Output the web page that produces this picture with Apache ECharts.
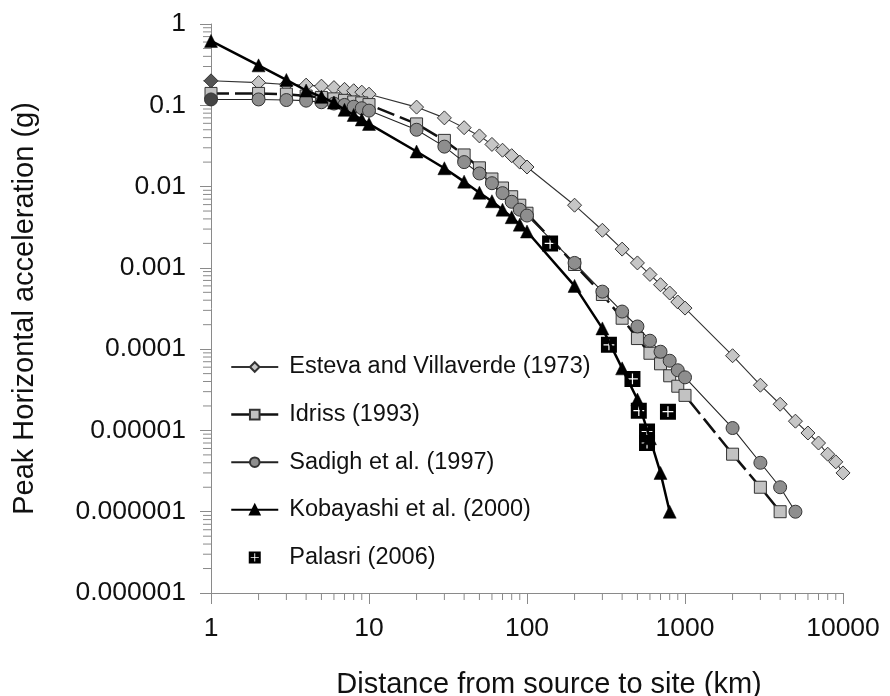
<!DOCTYPE html>
<html>
<head>
<meta charset="utf-8">
<script src="https://cdn.jsdelivr.net/npm/echarts@6/dist/echarts.min.js"></script>
<style>
  html, body { margin: 0; padding: 0; background: #fff; }
  #chart { width: 890px; height: 696px; }
</style>
</head>
<body>
<div id="chart"></div>
<script>
// distances (km) and PGA (g)
const estevaDist = [1,2,3,4,5,6,7,8,9,10,20,30,40,50,60,70,80,90,100,200,300,400,500,600,700,800,900,1000,2000,3000,4000,5000,6000,7000,8000,9000,10000]
const estevaPga = [0.2,0.19,0.18,0.177,0.172,0.165,0.157,0.151,0.145,0.137,0.095,0.07,0.053,0.042,0.033,0.028,0.024,0.020,0.0174,0.0059,0.0029,0.0017,0.00115,0.00083,0.00062,0.00049,0.00038,0.00032,8.3e-5,3.6e-5,2.1e-5,1.3e-5,9.3e-6,7.0e-6,5.1e-6,4.1e-6,3.0e-6]

const idrissDist = [1,2,3,4,5,6,7,8,9,10,20,30,40,50,60,70,80,90,100,200,300,400,500,600,700,800,900,1000,2000,3000,4000]
const idrissPga = [0.14,0.14,0.137,0.13,0.125,0.12,0.115,0.11,0.107,0.102,0.059,0.037,0.0245,0.017,0.0124,0.0096,0.0075,0.0059,0.0047,0.0011,0.00047,0.00024,0.000135,8.9e-5,6.6e-5,4.7e-5,3.5e-5,2.7e-5,5.1e-6,2.0e-6,1.0e-6]

const sadighDist = [1,2,3,4,5,6,7,8,9,10,20,30,40,50,60,70,80,90,100,200,300,400,500,600,700,800,900,1000,2000,3000,4000,5000]
const sadighPga = [0.118,0.118,0.116,0.114,0.109,0.105,0.101,0.096,0.092,0.086,0.05,0.031,0.02,0.0145,0.011,0.0083,0.0065,0.0052,0.0044,0.00115,0.00051,0.00029,0.00019,0.000127,9.3e-5,7.2e-5,5.5e-5,4.5e-5,1.07e-5,4.0e-6,2.0e-6,1.0e-6]

const kobaDist = [1,2,3,4,5,6,7,8,9,10,20,30,40,50,60,70,80,90,100,200,300,400,500,600,700,800]
const kobaPga = [0.62,0.31,0.205,0.152,0.127,0.108,0.088,0.076,0.067,0.059,0.027,0.0168,0.0115,0.0084,0.0066,0.0052,0.0042,0.0034,0.0028,0.0006,0.00018,5.8e-5,2.4e-5,8.0e-6,3.0e-6,1.0e-6]

const palasriDist = [140,330,465,510,575,575,780]
const palasriPga = [0.002,1.13e-4,4.3e-5,1.75e-5,9.7e-6,7.0e-6,1.7e-5]

const xTickLabels = ['1','10','100','1000','10000']
const yTickLabels = ['1','0.1','0.01','0.001','0.0001','0.00001','0.000001','0.000001']

// minor ticks (2..9 of every decade)
const xMinor = []
for (let d = 1; d < 10000; d *= 10) for (let k = 2; k <= 9; k++) xMinor.push(d * k)
const yMinor = []
for (let d = 1e-7; d < 0.5; d *= 10) for (let k = 2; k <= 9; k++) yMinor.push(d * k)

const FONT = "'Liberation Sans', Arial, sans-serif"
const AXIS_COLOR = '#8a8a8a'

// black square with a white plus
const plusSquare = 'path://M0 0H16V16H0Z M7.4 2.6V7.4H2.6V8.6H7.4V13.4H8.6V8.6H13.4V7.4H8.6V2.6Z'

function pairs(xs, ys, firstColor) {
  return xs.map((x, i) => {
    const item = { value: [x, ys[i]] }
    if (i === 0 && firstColor) item.itemStyle = { color: firstColor }
    return item
  })
}

const chart = echarts.init(document.getElementById('chart'))

const option = {
  animation: false,
  textStyle: { fontFamily: FONT },
  grid: { left: 211, right: 47, top: 24, bottom: 103, outerBoundsMode: 'none', containLabel: false },
  xAxis: {
    type: 'log',
    logBase: 10,
    min: 1,
    max: 10000,
    interval: 1,
    name: 'Distance from source to site (km)',
    nameLocation: 'middle',
    nameGap: 77,
    nameTextStyle: { fontSize: 29, color: '#111', fontFamily: FONT, padding: [0, 0, 0, 44] },
    axisLine: { lineStyle: { color: AXIS_COLOR, width: 1 } },
    axisTick: { length: 11, lineStyle: { color: AXIS_COLOR } },
    axisLabel: {
      fontSize: 26.5, color: '#111', fontFamily: FONT, margin: 22,
      formatter: v => xTickLabels[Math.round(Math.log10(v))]
    },
    splitLine: { show: false }
  },
  yAxis: {
    type: 'log',
    logBase: 10,
    min: 1e-7,
    max: 1,
    interval: 1,
    name: 'Peak Horizontal acceleration (g)',
    nameLocation: 'middle',
    nameGap: 172,
    nameTextStyle: { fontSize: 29, color: '#111', fontFamily: FONT },
    axisLine: { lineStyle: { color: AXIS_COLOR, width: 1 } },
    axisTick: { length: 11, lineStyle: { color: AXIS_COLOR } },
    axisLabel: {
      fontSize: 26.5, color: '#111', fontFamily: FONT, margin: 25,
      formatter: v => yTickLabels[Math.round(-Math.log10(v))]
    },
    splitLine: { show: false }
  },
  legend: {
    orient: 'vertical',
    left: 230,
    top: 355,
    padding: 0,
    itemWidth: 47,
    itemHeight: 12,
    itemGap: 23.6,
    textStyle: { fontSize: 23.5, color: '#111', fontFamily: FONT, lineHeight: 24, padding: [0, 0, 0, 6] },
    data: [
      { name: 'Esteva and Villaverde (1973)' },
      { name: 'Idriss (1993)', lineStyle: { type: 'solid', width: 2.5, color: '#111' } },
      { name: 'Sadigh et al. (1997)' },
      { name: 'Kobayashi et al. (2000)' },
      { name: 'Palasri (2006)' }
    ]
  },
  series: [
    {
      name: 'Esteva and Villaverde (1973)',
      type: 'line',
      clip: false,
      data: pairs(estevaDist, estevaPga, '#555'),
      symbol: 'diamond',
      symbolSize: 14,
      itemStyle: { color: '#c6c6c6', borderColor: '#333', borderWidth: 1 },
      lineStyle: { color: '#333', width: 1.1 },
      z: 2
    },
    {
      name: 'Idriss (1993)',
      type: 'line',
      clip: false,
      data: pairs(idrissDist, idrissPga),
      symbol: 'rect',
      symbolSize: 12,
      itemStyle: { color: '#c2c2c2', borderColor: '#333', borderWidth: 1 },
      lineStyle: { color: '#111', width: 2.5, type: [18, 6] },
      z: 3
    },
    {
      name: 'Sadigh et al. (1997)',
      type: 'line',
      clip: false,
      data: pairs(sadighDist, sadighPga, '#444'),
      symbol: 'circle',
      symbolSize: 13,
      itemStyle: { color: '#8e8e8e', borderColor: '#333', borderWidth: 1 },
      lineStyle: { color: '#222', width: 1.1 },
      z: 4
    },
    {
      name: 'Kobayashi et al. (2000)',
      type: 'line',
      clip: false,
      data: pairs(kobaDist, kobaPga),
      symbol: 'triangle',
      symbolSize: 13,
      itemStyle: { color: '#000', borderColor: '#000', borderWidth: 0.5 },
      lineStyle: { color: '#000', width: 2.5 },
      z: 5
    },
    {
      name: 'Palasri (2006)',
      type: 'scatter',
      clip: false,
      data: pairs(palasriDist, palasriPga),
      symbol: plusSquare,
      symbolSize: 16,
      itemStyle: { color: '#000', opacity: 1 },
      z: 6
    },
    {
      name: 'xMinorTicks',
      type: 'custom',
      clip: false,
      silent: true,
      data: xMinor.map(v => [v, 1e-7]),
      renderItem: (params, api) => {
        const p = api.coord([api.value(0), api.value(1)])
        return { type: 'line', shape: { x1: p[0], y1: p[1], x2: p[0], y2: p[1] + 7 }, style: { stroke: AXIS_COLOR, lineWidth: 1 } }
      },
      z: 1
    },
    {
      name: 'yMinorTicks',
      type: 'custom',
      clip: false,
      silent: true,
      data: yMinor.map(v => [1, v]),
      renderItem: (params, api) => {
        const p = api.coord([api.value(0), api.value(1)])
        return { type: 'line', shape: { x1: p[0] - 8, y1: p[1], x2: p[0], y2: p[1] }, style: { stroke: AXIS_COLOR, lineWidth: 1 } }
      },
      z: 1
    }
  ]
}

chart.setOption(option)
</script>
</body>
</html>
